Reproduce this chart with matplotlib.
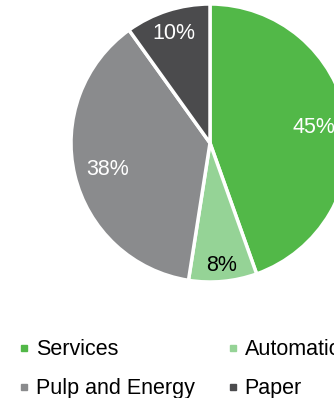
import matplotlib
matplotlib.use("Agg")
import matplotlib.pyplot as plt
from matplotlib.lines import Line2D

plt.rcParams["font.family"] = ["Liberation Sans", "DejaVu Sans"]

# Sales split by business line (%)
segments = ["Services", "Automation", "Pulp and Energy", "Paper"]
shares = [45, 8, 38, 10]
colors = ["#52b848", "#95d396", "#8a8b8d", "#4b4b4d"]
label_colors = ["white", "black", "white", "white"]

# label offsets from the pie centre, in units of the radius
label_offsets = [(0.75, 0.115), (0.083, -0.88), (-0.74, -0.19), (-0.26, 0.79)]

W, H = 334, 398
fig = plt.figure(figsize=(W / 100, H / 100), dpi=100)
ax = fig.add_axes([0, 0, 1, 1])

cx, cy, r = 210, 255, 139
ax.pie(
    shares,
    colors=colors,
    startangle=90,
    counterclock=False,
    center=(cx, cy),
    radius=r,
    wedgeprops={"edgecolor": "white", "linewidth": 2.5},
    frame=True,
)
ax.set_xlim(0, W)
ax.set_ylim(0, H)
ax.set_aspect("equal")
ax.axis("off")

for share, (dx, dy), tc in zip(shares, label_offsets, label_colors):
    ax.text(cx + dx * r, cy + dy * r, f"{share}%", color=tc, fontsize=15.5,
            ha="center", va="center")

# legend: two columns, filled column-wise
order = [0, 2, 1, 3]
handles = [Line2D([], [], marker="s", linestyle="none", markersize=5,
                  color=colors[i]) for i in order]
labels = [segments[i] for i in order]
fig.legend(handles, labels, ncol=2, frameon=False, fontsize=15.5,
           loc="upper left", bbox_to_anchor=(0.057, 0.148),
           handlelength=0.5, handletextpad=0.3, columnspacing=1.5,
           labelspacing=0.85, borderpad=0, borderaxespad=0)

fig.savefig("out.png", dpi=100)
